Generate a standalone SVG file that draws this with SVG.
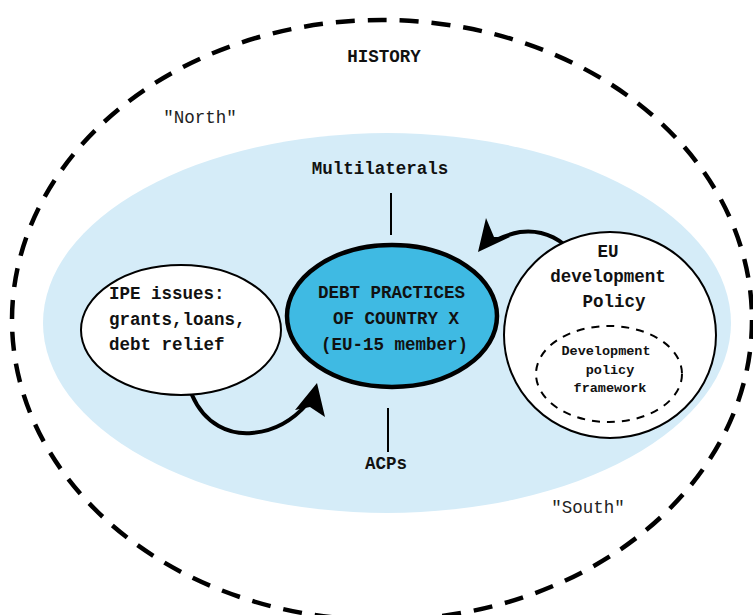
<svg xmlns="http://www.w3.org/2000/svg" width="753" height="615" viewBox="0 0 753 615">
<style>
.t{font-family:"Liberation Mono","Courier New",monospace;font-size:17.5px;font-weight:bold;fill:#111}
.n{font-family:"Liberation Mono","Courier New",monospace;font-size:17.5px;fill:#222}
.s{font-family:"Liberation Mono","Courier New",monospace;font-size:13.5px;font-weight:bold;fill:#111}
.c{text-anchor:middle}
.conn{fill:none;stroke:#000;stroke-width:4;stroke-linecap:round}
</style>
<rect width="753" height="615" fill="#fff"/>
<g id="history">
<ellipse cx="382" cy="320" rx="370" ry="300" fill="none" stroke="#000" stroke-width="4.5" stroke-dasharray="19 13"/>
<text class="t c" x="384" y="62">HISTORY</text>
<text class="n c" x="200" y="123">"North"</text>
<text class="n c" x="588" y="513">"South"</text>
</g>
<g id="region">
<ellipse cx="387" cy="323" rx="344" ry="190" fill="#d5ecf8"/>
</g>
<g id="multilaterals"><text class="t c" x="380" y="174">Multilaterals</text></g>
<g id="acps"><text class="t c" x="386" y="469">ACPs</text></g>
<g id="connectors">
<line x1="391" y1="193" x2="391" y2="235" stroke="#000" stroke-width="2"/>
<line x1="388" y1="408" x2="388" y2="452" stroke="#000" stroke-width="2"/>
<path class="conn" d="M192,395 C205,425 230,435 252,433 C276,431 293,420 307,404"/>
<polygon points="317,383 325,417 310,407 295,410" fill="#000"/>
<path class="conn" d="M579,263 C566,239 543,229 520,232 C510,234 502,237 496,240"/>
<polygon points="478,252 486,218 494,237 510,237" fill="#000"/>
</g>
<g id="ipe">
<ellipse cx="181" cy="330" rx="100" ry="65" fill="#fff" stroke="#000" stroke-width="2"/>
<text class="t" x="109" y="299">IPE issues:</text>
<text class="t" x="109" y="325">grants,loans,</text>
<text class="t" x="109" y="350">debt relief</text>
</g>
<g id="debt">
<ellipse cx="392" cy="316" rx="105" ry="71" fill="#3fbae3" stroke="#000" stroke-width="4.5"/>
<text class="t" x="318" y="298">DEBT PRACTICES</text>
<text class="t" x="333" y="324">OF COUNTRY X</text>
<text class="t" x="321" y="350">(EU-15 member)</text>
</g>
<g id="eu">
<ellipse cx="610" cy="335" rx="106" ry="103" fill="#fff" stroke="#000" stroke-width="2"/>
<text class="t c" x="608" y="257">EU</text>
<text class="t c" x="608" y="282">development</text>
<text class="t c" x="614" y="307">Policy</text>
<g id="framework">
<ellipse cx="609" cy="374" rx="73" ry="48" fill="none" stroke="#000" stroke-width="2" stroke-dasharray="8 7"/>
<text class="s c" x="606" y="355">Development</text>
<text class="s c" x="610" y="374">policy</text>
<text class="s c" x="610" y="392">framework</text>
</g>
</g>
</svg>
